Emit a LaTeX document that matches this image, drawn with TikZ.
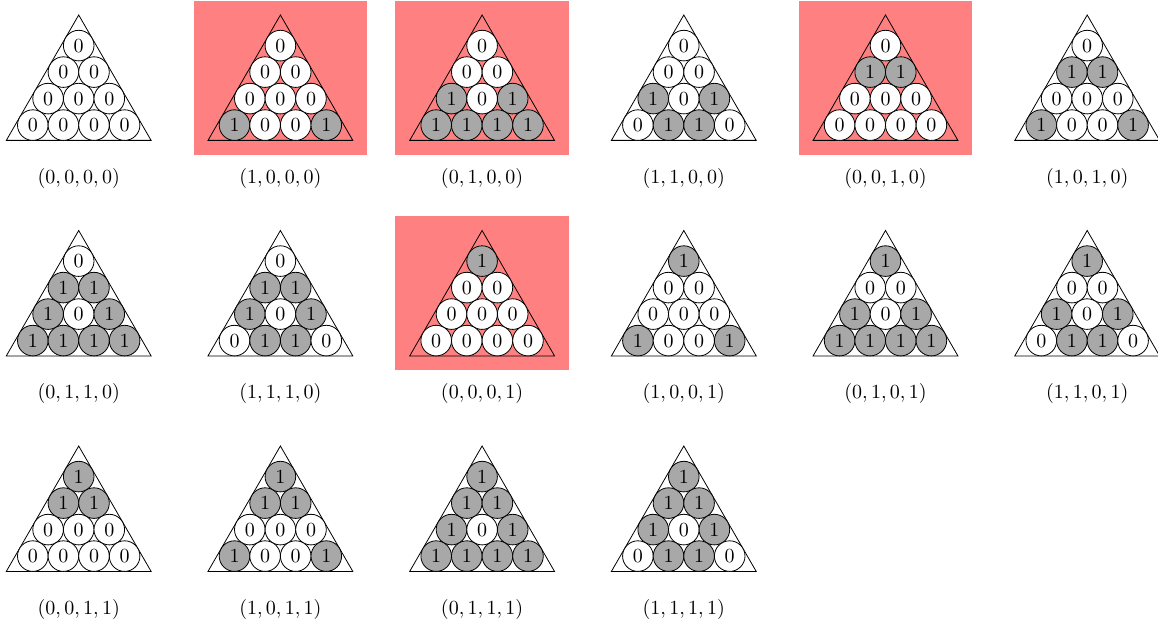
\documentclass[tikz,border=0pt]{standalone}
\usepackage{amsmath}
\usepackage{xcolor}
\usepackage{tikz}
\usetikzlibrary{positioning}
\definecolor{hlred}{RGB}{255,128,128}
\definecolor{bitgray}{RGB}{168,168,168}

\begin{document}
\begin{tikzpicture}[
    cell/.style ={circle, draw=black, inner sep=0pt, minimum size=15.3pt},
    bit0/.style ={cell, fill=white},
    bit1/.style ={cell, fill=bitgray},
    tri/.style  ={draw=black, line join=miter},
    hl/.style   ={fill=hlred},
    lbl/.style  ={inner sep=1pt}
  ]
  \useasboundingbox (-39.35pt,7.5pt) rectangle (539.65pt,-305.5pt);
  % --- one triangle per vector (a,b,c,d), k = a + 2b + 4c + 8d ---
  \foreach \k in {0,...,15} {
    \pgfmathtruncatemacro\va{mod(\k,2)}
    \pgfmathtruncatemacro\vb{mod(floor(\k/2),2)}
    \pgfmathtruncatemacro\vc{mod(floor(\k/4),2)}
    \pgfmathtruncatemacro\vd{mod(floor(\k/8),2)}
    \pgfmathtruncatemacro\ab{mod(\va+\vb,2)}
    \pgfmathtruncatemacro\col{mod(\k,6)}
    \pgfmathtruncatemacro\row{floor(\k/6)}
    \pgfmathtruncatemacro\ishl{(\k==1)||(\k==2)||(\k==4)||(\k==8)}
    \begin{scope}[shift={(\col*100.85pt,-\row*107.75pt)}]
      % --- highlight for the unit vectors ---
      \ifnum\ishl=1
        \fill[hl] (-43.4pt,7.2pt) rectangle (43.4pt,-69.9pt);
      \fi
      % --- triangle ---
      \draw[tri] (0,0) coordinate (top\k) -- (-36.2pt,-62.7pt) coordinate (bl\k)
        -- (36.2pt,-62.7pt) coordinate (br\k) -- cycle;
      % --- cells, row by row from the top ---
      \foreach \rowvals [count=\i from 0] in {{\vd},{\vc,\vc},{\vb,0,\vb},{\ab,\vb,\vb,\ab}} {
        \foreach \v [count=\j from 0] in \rowvals {
          \pgfmathtruncatemacro\w{\v}
          \node[bit\w] (c\k-\i-\j) at ({(\j-\i/2)*15.3pt},{-15.3pt-\i*13.25pt}) {\w};
        }
      }
      % --- label ---
      \node[lbl] (lab\k) at (0,-81.6pt) {$(\va,\vb,\vc,\vd)$};
    \end{scope}
  }
\end{tikzpicture}
\end{document}
